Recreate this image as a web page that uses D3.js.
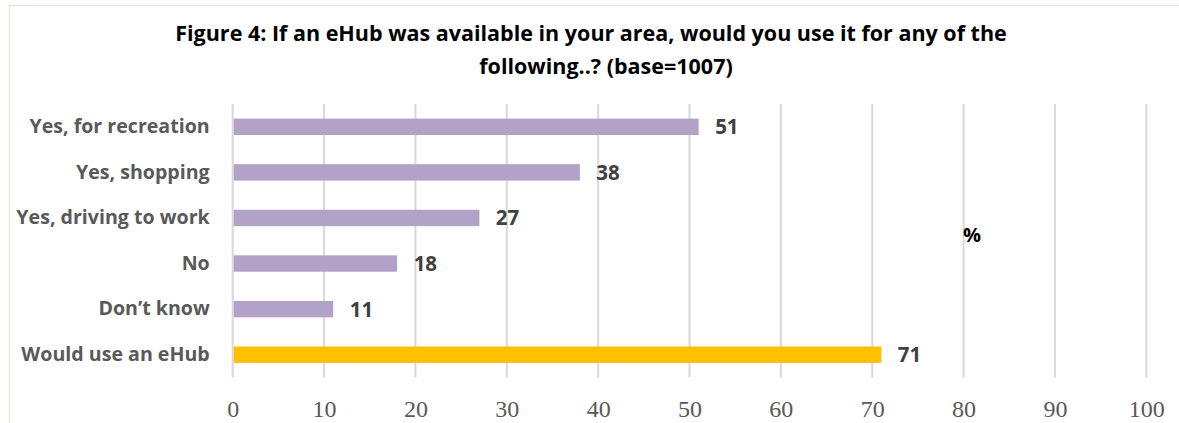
<!DOCTYPE html>
<html>
<head>
<meta charset="utf-8">
<script src="https://cdn.jsdelivr.net/npm/d3@7"></script>
<style>
  html, body { margin: 0; padding: 0; background: #fff; }
  svg { display: block; }
</style>
</head>
<body>
<svg id="chart" width="1179" height="423"></svg>
<script>
// Survey responses, top to bottom
const categories = [
  "Yes, for recreation",
  "Yes, shopping",
  "Yes, driving to work",
  "No",
  "Don\u2019t know",
  "Would use an eHub"
];
const values = [51, 38, 27, 18, 11, 71];
const highlighted = [false, false, false, false, false, true];
const xTicks = [0, 10, 20, 30, 40, 50, 60, 70, 80, 90, 100];
const titleLines = [
  "Figure 4: If an eHub was available in your area, would you use it for any of the",
  "following..? (base=1007)"
];
const unitLabel = "%";

const svg = d3.select("#chart");
const W = 1179, H = 423;
const plot = { left: 232.7, right: 1146.3, top: 104, bottom: 377.5 };
const sans = "'Open Sans', 'Noto Sans', sans-serif";

// Outer chart frame (top and left edges visible)
svg.append("path")
  .attr("d", `M9.5,${H} V5.5 H${W}`)
  .attr("fill", "none")
  .attr("stroke", "#E9E7DD")
  .attr("stroke-width", 1.5);

const x = d3.scaleLinear().domain([0, 100]).range([plot.left, plot.right]);
const y = d3.scaleBand().domain(categories).range([plot.top, plot.bottom]).paddingInner(0.64).paddingOuter(0.32);

// Vertical gridlines
svg.append("g")
  .selectAll("line")
  .data(xTicks)
  .join("line")
  .attr("x1", d => x(d)).attr("x2", d => x(d))
  .attr("y1", plot.top).attr("y2", plot.bottom)
  .attr("stroke", "#D9D9D9")
  .attr("stroke-width", 2);

// Bottom axis labels
const xAxis = d3.axisBottom(x).tickValues(xTicks).tickSize(0).tickPadding(0);
const gx = svg.append("g").attr("transform", `translate(0,${plot.bottom + 22})`).call(xAxis);
gx.select(".domain").remove();
gx.selectAll("text")
  .attr("font-family", "'Liberation Serif', 'DejaVu Serif', serif")
  .attr("font-size", 24)
  .attr("fill", "#595959")
  .attr("dy", "0.71em");

// Category labels
const yAxis = d3.axisLeft(y).tickSize(0).tickPadding(0);
const gy = svg.append("g").attr("transform", `translate(${plot.left - 23},0)`).call(yAxis);
gy.select(".domain").remove();
gy.selectAll("text")
  .attr("font-family", sans)
  .attr("font-weight", "bold")
  .attr("font-size", 19.6)
  .attr("fill", "#595959");

// Bars
svg.append("g")
  .selectAll("rect")
  .data(categories)
  .join("rect")
  .attr("x", x(0) + 1)
  .attr("y", d => y(d))
  .attr("width", (d, i) => x(values[i]) - x(0) - 1)
  .attr("height", y.bandwidth())
  .attr("fill", (d, i) => highlighted[i] ? "#FFC000" : "#B3A2C7");

// Value labels
svg.append("g")
  .selectAll("text")
  .data(categories)
  .join("text")
  .attr("x", (d, i) => x(values[i]) + 16.5)
  .attr("y", d => y(d) + y.bandwidth() / 2)
  .attr("dy", "0.36em")
  .attr("font-family", sans)
  .attr("font-weight", "bold")
  .attr("font-size", 20.5)
  .attr("fill", "#404040")
  .text((d, i) => values[i]);

// Title
svg.append("g")
  .selectAll("text")
  .data(titleLines)
  .join("text")
  .attr("x", (d, i) => i === 0 ? 591 : 606)
  .attr("y", (d, i) => 41 + i * 33)
  .attr("text-anchor", "middle")
  .attr("font-family", sans)
  .attr("font-weight", "bold")
  .attr("font-size", 21.5)
  .attr("fill", "#000")
  .text(d => d);

// Unit label
svg.append("text")
  .attr("x", 972)
  .attr("y", 242)
  .attr("text-anchor", "middle")
  .attr("font-family", sans)
  .attr("font-weight", "bold")
  .attr("font-size", 20)
  .attr("fill", "#000")
  .text(unitLabel);
</script>
</body>
</html>
